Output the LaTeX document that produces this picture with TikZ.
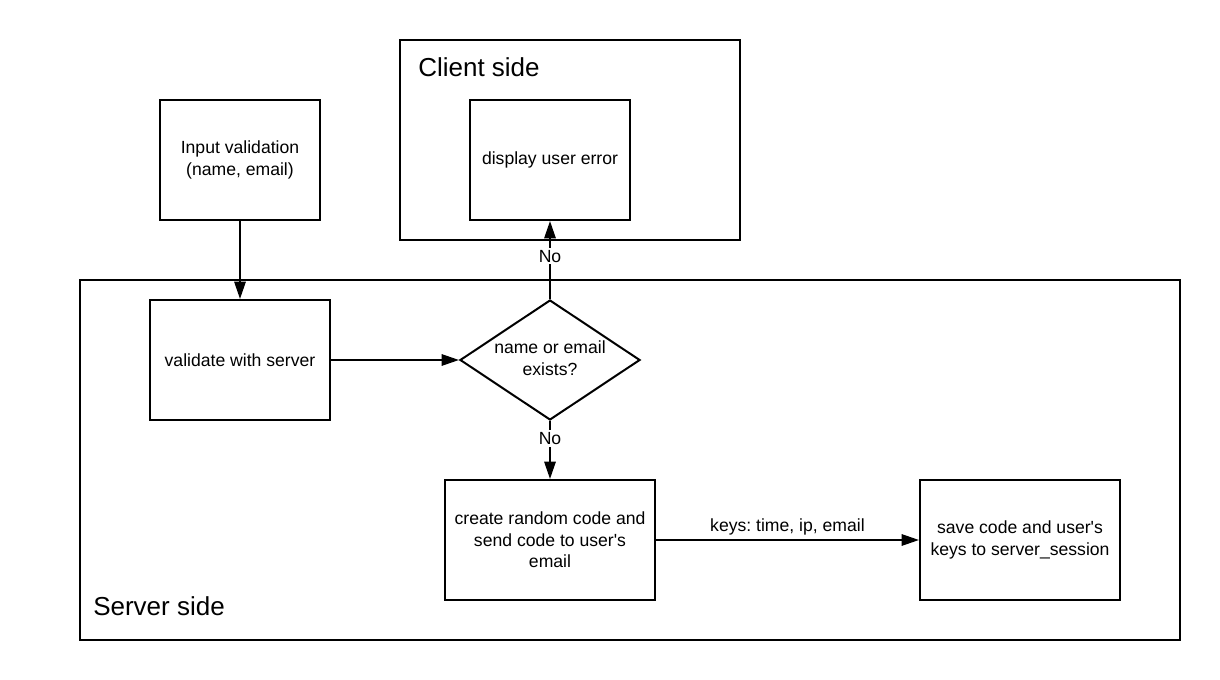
\documentclass[tikz,border=0pt]{standalone}
\usepackage{fontspec}
\setmainfont{Liberation Sans}
\frenchspacing
\usetikzlibrary{arrows.meta,shapes.geometric}
\tikzset{
    stepbox/.style={draw=black, line width=1.5pt, rectangle, minimum width=#1, minimum height=90pt, inner sep=0pt, align=center, font=\fontsize{13.2}{16.2}\selectfont},
    areabox/.style={draw=black, line width=1.5pt, rectangle, inner sep=0pt},
    arealabel/.style={anchor=west, inner sep=0pt, font=\fontsize{19.5}{22}\selectfont},
    decision/.style={draw=black, line width=1.5pt, diamond, minimum width=135pt, minimum height=90pt, inner sep=0pt},
    txt/.style={inner sep=1pt, align=center, font=\fontsize{13.2}{16.2}\selectfont},
    flow/.style={line width=1.5pt, -{Triangle[length=13pt,width=8.5pt]}},
    answer/.style={fill=white, inner sep=1.5pt, font=\fontsize{13.2}{15}\selectfont}
}
\begin{document}
\begin{tikzpicture}[x=0.75pt, y=-0.75pt]
        \useasboundingbox (0,0) rectangle (1220,680);
        % the two sides
        \node[areabox, minimum width=255pt, minimum height=150pt] (client) at (570,140) {};
        \node[arealabel] (clientlabel) at (418,67) {Client side};
        \node[areabox, minimum width=825pt, minimum height=270pt] (server) at (630,460) {};
        \node[arealabel] (serverlabel) at (93,606) {Server side};
        % steps
        \node[stepbox=120pt] (input) at (240,160) {Input validation\\(name, email)};
        \node[stepbox=120pt] (error) at (550,160) {display user error};
        \node[stepbox=135pt] (validate) at (240,360) {validate with server};
        \node[decision] (exists) at (550,360) {};
        \node[txt] (existstext) at (550,358) {name or email\\exists?};
        \node[stepbox=157.5pt] (create) at (550,540) {create random code and\\send code to user\textquotesingle s\\email};
        \node[stepbox=150pt] (save) at (1020,540) {save code and user\textquotesingle s\\keys to server\_session};
        % connectors
        \draw[flow] (input) -- (validate);
        \draw[flow] (validate) -- (exists.west);
        \draw[flow] (exists.north) -- node[answer, pos=0.55] (noup) {No} (error);
        \draw[flow] (exists.south) -- node[answer, pos=0.3] (nodown) {No} (create);
        \draw[flow] (create) -- node[txt, above=2pt] (keys) {keys: time, ip, email} (save);
\end{tikzpicture}
\end{document}
